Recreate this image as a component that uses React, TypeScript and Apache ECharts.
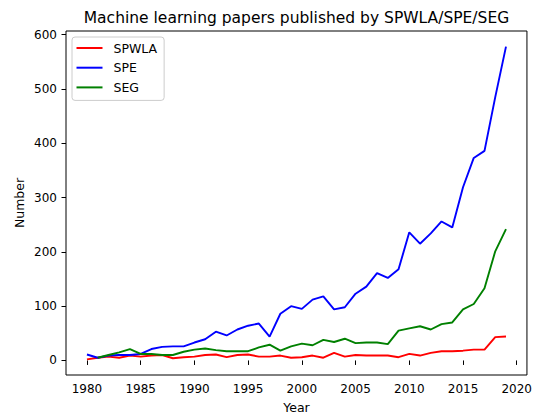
import React, { useEffect, useRef } from "react";
import * as echarts from "echarts";

const years = [
  1980, 1981, 1982, 1983, 1984, 1985, 1986, 1987, 1988, 1989,
  1990, 1991, 1992, 1993, 1994, 1995, 1996, 1997, 1998, 1999,
  2000, 2001, 2002, 2003, 2004, 2005, 2006, 2007, 2008, 2009,
  2010, 2011, 2012, 2013, 2014, 2015, 2016, 2017, 2018, 2019,
];

const spwla = [
  2, 5, 7, 5, 9, 7, 9, 10, 4, 6,
  7, 10, 11, 6, 10, 11, 7, 7, 9, 5,
  6, 9, 5, 14, 7, 10, 9, 9, 9, 6,
  12, 9, 14, 17, 17, 18, 20, 20, 43, 44,
];

const spe = [
  11, 5, 9, 10, 10, 12, 21, 25, 26, 26,
  33, 39, 53, 46, 57, 64, 68, 44, 86, 100,
  95, 112, 118, 94, 98, 123, 136, 161, 152, 168,
  236, 215, 234, 256, 245, 319, 373, 386, 485, 578,
];

const seg = [
  null, 5, 10, 15, 21, 12, 12, 10, 10, 16,
  20, 22, 19, 17, 17, 17, 24, 29, 18, 26,
  31, 28, 38, 34, 40, 32, 33, 33, 30, 55,
  59, 63, 57, 67, 70, 94, 104, 133, 201, 242,
];

const xTicks = [1980, 1985, 1990, 1995, 2000, 2005, 2010, 2015, 2020];
const yTicks = [0, 100, 200, 300, 400, 500, 600];

const FONT = '"DejaVu Sans", sans-serif';

function pairs(vals: (number | null)[]) {
  return years.map((y, i) => [y, vals[i]]);
}

export default function App() {
  const ref = useRef<HTMLDivElement>(null);
  useEffect(() => {
    if (!ref.current) return;
    const chart = echarts.init(ref.current, null, { renderer: "svg" });
    const lineSeries = (name: string, color: string, vals: (number | null)[]) => ({
      name,
      type: "line",
      data: pairs(vals),
      showSymbol: false,
      symbol: "none",
      connectNulls: false,
      lineStyle: { color, width: 1.9 },
      itemStyle: { color },
    });
    chart.setOption({
      animation: false,
      backgroundColor: "#ffffff",
      grid: {
        left: 66,
        right: 8,
        top: 31,
        bottom: 40,
        show: true,
        borderColor: "#000",
        borderWidth: 1,
        backgroundColor: "transparent",
      },
      xAxis: {
        type: "value",
        min: 1978.05,
        max: 2020.95,
        axisLine: { show: false },
        splitLine: { show: false },
        axisTick: {
          show: true,
          inside: false,
          length: 4.5,
          customValues: xTicks,
          lineStyle: { color: "#000", width: 1 },
        },
        axisLabel: {
          customValues: xTicks,
          formatter: (v: number) => String(v),
          color: "#000",
          fontSize: 12,
          fontFamily: FONT,
          margin: 8,
        },
      },
      yAxis: {
        type: "value",
        min: -26.8,
        max: 606.8,
        axisLine: { show: false },
        splitLine: { show: false },
        axisTick: {
          show: true,
          inside: false,
          length: 4.5,
          customValues: yTicks,
          lineStyle: { color: "#000", width: 1 },
        },
        axisLabel: {
          customValues: yTicks,
          formatter: (v: number) => String(v),
          color: "#000",
          fontSize: 12,
          fontFamily: FONT,
          margin: 9,
        },
      },
      legend: {
        show: true,
        orient: "vertical",
        left: 72,
        top: 37,
        icon: "rect",
        itemWidth: 26,
        itemHeight: 2,
        itemGap: 5.7,
        padding: [4, 7, 6, 4.5],
        backgroundColor: "rgba(255,255,255,0.8)",
        borderColor: "#cccccc",
        borderWidth: 1,
        borderRadius: 3,
        textStyle: {
          color: "#000",
          fontSize: 12.5,
          fontFamily: FONT,
          lineHeight: 14,
          padding: [0, 0, 0, 6],
        },
        data: ["SPWLA", "SPE", "SEG"],
      },
      graphic: [
        {
          type: "text",
          x: 296.5,
          y: 18,
          style: {
            text: "Machine learning papers published by SPWLA/SPE/SEG",
            fill: "#000",
            font: `15.5px ${FONT}`,
            align: "center",
            verticalAlign: "middle",
            textAlign: "center",
            textVerticalAlign: "middle",
          },
        },
        {
          type: "text",
          x: 296.5,
          y: 407,
          style: {
            text: "Year",
            fill: "#000",
            font: `12.5px ${FONT}`,
            align: "center",
            verticalAlign: "middle",
            textAlign: "center",
            textVerticalAlign: "middle",
          },
        },
        {
          type: "text",
          x: 19,
          y: 203,
          rotation: Math.PI / 2,
          style: {
            text: "Number",
            fill: "#000",
            font: `12.5px ${FONT}`,
            align: "center",
            verticalAlign: "middle",
            textAlign: "center",
            textVerticalAlign: "middle",
          },
        },
      ],
      series: [
        lineSeries("SPWLA", "#ff0000", spwla),
        lineSeries("SPE", "#0000ff", spe),
        lineSeries("SEG", "#008000", seg),
      ],
    });
    return () => chart.dispose();
  }, []);
  return (
    <div
      ref={ref}
      style={{ position: "absolute", left: 0, top: 0, width: 535, height: 415 }}
    />
  );
}
